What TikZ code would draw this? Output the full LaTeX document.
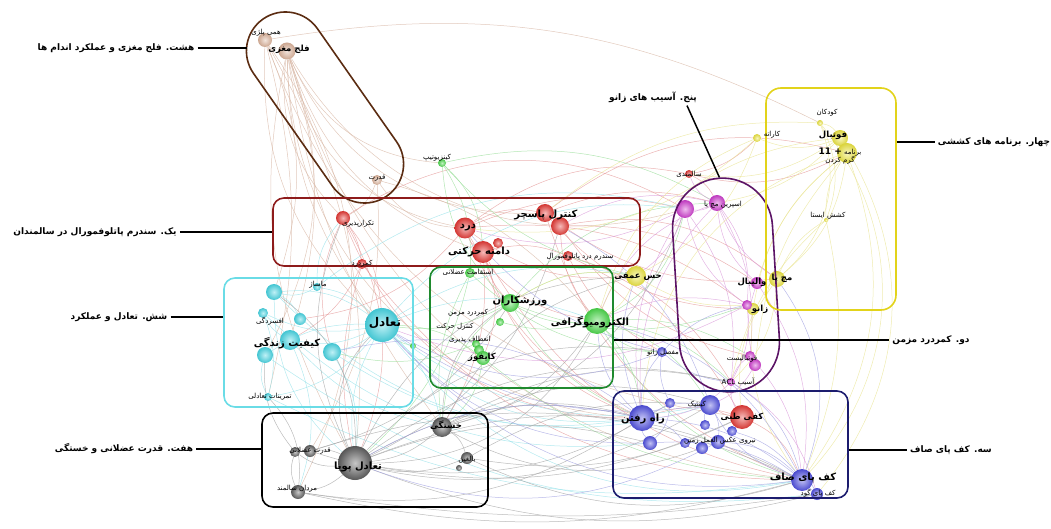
\documentclass[tikz,border=0pt]{standalone}
\usepackage{fontspec}
\usepackage{tikz}
\usetikzlibrary{backgrounds}
\TeXXeTstate=1
\newfontfamily\arabicfont[Script=Arabic]{DejaVu Sans}
\newcommand\rtl[1]{\beginR#1\endR}
\definecolor{brownline}{HTML}{5B2C12}
\definecolor{redline}{HTML}{8E1B1B}
\definecolor{cyanline}{HTML}{6ADCE6}
\definecolor{greenline}{HTML}{1F8A2E}
\definecolor{purpleline}{HTML}{5C1466}
\definecolor{yellowline}{HTML}{E2D31A}
\definecolor{navyline}{HTML}{1C1C6E}
\definecolor{brownnode}{HTML}{DDB49C}
\definecolor{rednode}{HTML}{E53A36}
\definecolor{greennode}{HTML}{4BD84B}
\definecolor{yellownode}{HTML}{EDE642}
\definecolor{purplenode}{HTML}{CF3ECF}
\definecolor{bluenode}{HTML}{5050E0}
\definecolor{cyannode}{HTML}{48D6E4}
\definecolor{graynode}{HTML}{5E5E5E}
\definecolor{brownedge}{HTML}{D8B8A6}
\definecolor{rededge}{HTML}{E59A9A}
\definecolor{greenedge}{HTML}{9ADE9A}
\definecolor{yellowedge}{HTML}{EAE596}
\definecolor{purpleedge}{HTML}{DA9ADA}
\definecolor{blueedge}{HTML}{A2A2E2}
\definecolor{cyanedge}{HTML}{98E2EA}
\definecolor{grayedge}{HTML}{A4A4A4}
\tikzset{
  bub/.style={circle, inner sep=0pt, inner color=#1!35!white, outer color=#1!92!black},
  lsm/.style={font=\arabicfont\fontsize{7}{8}\selectfont, inner sep=0pt},
  lmd/.style={font=\arabicfont\bfseries\fontsize{8.5}{9}\selectfont, inner sep=0pt},
  llg/.style={font=\arabicfont\bfseries\fontsize{10}{11}\selectfont, inner sep=0pt},
  outer/.style={font=\arabicfont\bfseries\fontsize{9}{10}\selectfont, inner sep=3pt},
}
\newcommand\links[2]{%
  \foreach \a/\b/\k in {#2}{%
    \pgfmathsetmacro\kk{1.7*\k}%
    \draw[edge=#1] (\a) to[bend left=\kk] (\b);}}
\begin{document}
\begin{tikzpicture}[x=1pt, y=-1pt,
  clus/.style={draw=#1, line width=1.6pt, rounded corners=11pt, inner sep=0pt},
  lead/.style={draw=black, line width=1.5pt},
  edge/.style={draw=#1, line width=.5pt, opacity=.75}]
  \useasboundingbox (0,0) rectangle (1051,529);
  % bubbles
  \foreach \n/\x/\y/\d in {hemi/265/40/14, cp/287/51/17, qodrat/377/180/10}
    \node[bub=brownnode, minimum size=\d pt] (\n) at (\x,\y) {};
  \foreach \n/\x/\y/\d in {rep/343/218/14, dard/465/228/21, pos1/545/213/18, pos2/560/226/18,
      rom/483/252/22, rom2/498/243/10, pfps/568/256/10, lbp/362/264/10, old/689/174/8, tebi/742/417/24}
    \node[bub=rednode, minimum size=\d pt] (\n) at (\x,\y) {};
  \foreach \n/\x/\y/\d in {kinesio/442/163/8, endur/470/273/10, ath/510/303/18, gdot1/500/322/8,
      flex/476/344/8, flex2/479/350/10, kypho/483/358/14, emg/597/321/26, gdot2/413/346/6}
    \node[bub=greennode, minimum size=\d pt] (\n) at (\x,\y) {};
  \foreach \n/\x/\y/\d in {kids/820/123/6, kar/757/138/8, foot/840/138/16, fifa/847/153/20,
      stat/826/220/4, prop/636/276/20, ankle/777/279/16, yknee/753/309/12}
    \node[bub=yellownode, minimum size=\d pt] (\n) at (\x,\y) {};
  \foreach \n/\x/\y/\d in {spr/717/203/16, spr2/685/209/18, volley/757/283/12, knee/747/305/10,
      ftb1/750/356/10, ftb2/755/365/12, acl/731/382/8}
    \node[bub=purplenode, minimum size=\d pt] (\n) at (\x,\y) {};
  \foreach \n/\x/\y/\d in {joint/662/352/10, kin/710/405/20, kin2/670/403/10, gait/642/418/26,
      b1/705/425/10, b2/732/431/10, b3/650/443/14, b4/685/443/10, b5/702/448/12, b6/718/442/14,
      flat/802/480/22, cavus/817/494/12}
    \node[bub=bluenode, minimum size=\d pt] (\n) at (\x,\y) {};
  \foreach \n/\x/\y/\d in {mas/317/287/8, c1/274/292/16, dep/263/313/10, c2/300/319/12,
      qol/290/340/20, c3/265/355/16, c4/332/352/18, bal/382/325/34, btr/268/397/8}
    \node[bub=cyannode, minimum size=\d pt] (\n) at (\x,\y) {};
  \foreach \n/\x/\y/\d in {fat/442/427/20, adu/467/458/12, adu2/459/468/6, ms1/295/452/10,
      ms2/310/451/12, dyn/355/463/34, men/298/492/14}
    \node[bub=graynode, minimum size=\d pt] (\n) at (\x,\y) {};
  % links
  \begin{scope}[on background layer]
    \links{brownedge}{cp/rep/-15, cp/dard/-20, cp/rom/-15, cp/bal/-10, cp/qol/10, cp/dyn/-12,
        cp/kinesio/-18, cp/pos1/-20, hemi/bal/-14, hemi/c1/12, hemi/dyn/10, hemi/kids/10.5,
        cp/spr2/-22, qodrat/rep/12, qodrat/dard/-15, qodrat/ms2/10, cp/c3/14, hemi/men/18,
        cp/gait/-25, cp/flat/-20, hemi/tebi/-18, qodrat/emg/10, hemi/btr/8, cp/fat/-8}
    \links{rededge}{dard/pos1/12, dard/rom/-10, dard/emg/-15, dard/knee/12, dard/spr2/10,
        dard/old/14, pos1/spr/10, pos1/ankle/-12, pos1/fifa/15, pos2/emg/-10, pos2/ftb1/-12,
        rom/pfps/10, rom/ath/-8, rom/kypho/12, rom/gait/-15, rep/bal/10, rep/c4/-12, rep/lbp/8,
        lbp/qol/10, lbp/dyn/-8, pfps/joint/-10, pfps/acl/12, old/spr/10, old/kar/-10,
        tebi/gait/-10, tebi/flat/12, tebi/kin/8, pos2/volley/10, dard/prop/-12, rep/dyn/15,
        pos1/yknee/-14, rom/fat/10, dard/c2/12, rep/gait/-20, lbp/flat/-15, pos1/flat/-15,
        dard/gait/-12, rom/flat/-14, pfps/tebi/10, pos2/ankle/14, rep/spr2/18, old/fifa/-12}
    \links{greenedge}{kinesio/endur/10, kinesio/ath/-12, kinesio/rom/12, ath/emg/-10,
        ath/prop/12, ath/bal/10, emg/joint/-12, emg/gait/10, emg/spr2/-14, emg/kin/12,
        endur/fat/-10, endur/dyn/10, kypho/bal/-10, kypho/fat/12, flex/c4/10, gdot1/emg/-8,
        gdot2/bal/8, ath/fat/-14, emg/acl/10, ath/knee/-12, kinesio/spr/12, kinesio/prop/-10,
        endur/joint/-12, ath/spr/14, ath/gait/-10, kypho/flat/-10, emg/flat/-12, emg/ftb1/10}
    \links{cyanedge}{bal/qol/10, bal/c1/-12, bal/dep/10, bal/c3/-10, bal/c4/8, bal/mas/-10,
        bal/btr/12, bal/dyn/-10, bal/fat/10, qol/c3/-10, qol/dep/10, c1/mas/-12, c1/c2/10,
        c3/btr/-12, c4/dyn/10, mas/rep/12, bal/flat/-18, qol/men/12, c1/dyn/-14, dep/btr/10,
        bal/emg/12, bal/gait/-15, c1/kin/-18, dep/b3/-14, c3/cavus/-12, btr/flat/-10,
        mas/spr2/15, bal/spr2/16, bal/prop/12, bal/kin/-14, c4/gait/-12, qol/fat/-10}
    \links{grayedge}{dyn/fat/-10, dyn/ms1/12, dyn/ms2/-10, dyn/men/10, dyn/adu/-10,
        dyn/gait/12, dyn/flat/14, dyn/b3/10, dyn/tebi/-10, fat/adu/12, fat/emg/-12, fat/gait/10,
        ms1/men/-12, men/cavus/-5, adu/flat/-12, fat/kin/12, dyn/cavus/-10, ms2/flat/12,
        men/flat/-8, fat/b5/-14, dyn/acl/14, dyn/joint/16, fat/acl/12, fat/prop/14,
        ms2/kin/-14, men/gait/-12, adu/tebi/-10, dyn/bal/20, dyn/c1/-16, dyn/rep/14,
        fat/ath/16, dyn/emg/-18, ms1/c3/12, men/btr/-14, dyn/pos2/-14, fat/spr2/-16,
        dyn/prop/18, ms2/ath/-12, adu/kin/10, dyn/kin2/-12}
    \links{purpleedge}{spr/spr2/10, spr/volley/-12, spr/knee/12, spr/ankle/-10, spr/ftb1/10,
        spr2/knee/-12, spr2/acl/12, volley/ftb2/-10, knee/acl/10, ftb1/acl/-10, acl/gait/12,
        acl/tebi/-10, spr2/prop/10, spr/pos2/-12, spr2/dard/12, knee/emg/-10, ftb2/kin/10,
        spr/old/12, spr/gait/-14, volley/flat/12, spr2/gait/-12, acl/cavus/12, ftb1/flat/10,
        spr/emg/-14, knee/bal/14}
    \links{yellowedge}{foot/fifa/10, foot/kids/-12, foot/kar/12, fifa/stat/-10, fifa/ankle/12,
        fifa/yknee/-12, foot/spr/10, fifa/volley/-10, kar/prop/12, stat/ankle/-10, prop/emg/10,
        prop/ath/-12, ankle/acl/12, fifa/ftb2/-10, foot/old/12, kids/pos1/-12, stat/flat/10,
        kids/flat/24, foot/cavus/21, kar/dard/14, prop/knee/-10, ankle/tebi/-12,
        kar/emg/-15, foot/emg/-18, fifa/gait/-20, kids/ankle/20, stat/acl/-10, yknee/flat/-12,
        fifa/flat/16, kids/stat/14}
    \links{blueedge}{flat/gait/-10, flat/kin/12, flat/cavus/10, flat/b6/-12, gait/kin/10,
        gait/b3/-10, gait/joint/12, kin/b1/-10, kin/b6/10, b4/b5/12, joint/acl/-10, gait/emg/12,
        flat/bal/16, gait/dyn/-12, kin2/joint/10, cavus/b3/-12, joint/knee/10, flat/emg/-14,
        gait/prop/12, b3/bal/14, kin/pos2/-12, flat/ankle/-16, joint/dard/10, joint/bal/15,
        gait/c4/-14, kin/bal/12, b6/dyn/14, b2/flat/10, b4/gait/-10, kin2/b3/12, flat/acl/-12}
  \end{scope}
  % clusters
  \node[clus=brownline, rounded corners=39pt, minimum width=216pt, minimum height=78pt, rotate=-55] (kbrown) at (325,107.5) {};
  \node[clus=redline, minimum width=367pt, minimum height=68pt] (kred) at (456.5,232) {};
  \node[clus=cyanline, minimum width=189pt, minimum height=129pt] (kcyan) at (318.5,342.5) {};
  \node[clus=greenline, minimum width=183pt, minimum height=121pt] (kgreen) at (521.5,327.5) {};
  \node[clus=purpleline, rounded corners=50pt, minimum width=100pt, minimum height=214pt, rotate=3.5] (kpurp) at (726,285) {};
  \node[clus=yellowline, rounded corners=15pt, minimum width=130pt, minimum height=222pt] (kyel) at (831,199) {};
  \node[clus=navyline, minimum width=235pt, minimum height=107pt] (knavy) at (730.5,444.5) {};
  \node[clus=black, minimum width=226pt, minimum height=94pt] (kblack) at (375,460) {};
  % labels
  \node[lsm] (lhemi) at (266,33) {\rtl{همی پلژی}};
  \node[lmd] (lcp) at (289,49) {\rtl{فلج مغزی}};
  \node[lsm] (lqodrat) at (377,178) {\rtl{قدرت}};
  \node[lsm] (lkinesio) at (437,158) {\rtl{کینزیوتیپ}};
  \node[lsm] (lrep) at (358,224) {\rtl{تکرارپذیری}};
  \node[llg] (ldard) at (468,228) {\rtl{درد}};
  \node[llg] (lpos) at (546,215) {\rtl{کنترل پاسچر}};
  \node[llg] (lrom) at (479,252) {\rtl{دامنه حرکتی}};
  \node[lsm] (lpfps) at (580,257) {\rtl{سندرم درد پاتلوفمورال}};
  \node[lsm] (llbp) at (362,264) {\rtl{کمردرد}};
  \node[lsm] (lold) at (689,174) {\rtl{سالمندی}};
  \node[lmd] (ltebi) at (742,417) {\rtl{کفی طبی}};
  \node[lsm] (lendur) at (468,272) {\rtl{استقامت عضلانی}};
  \node[llg] (lath) at (520,301) {\rtl{ورزشکاران}};
  \node[lsm] (lclbp) at (468,313) {\rtl{کمردرد مزمن}};
  \node[lsm] (lmotor) at (455,327) {\rtl{کنترل حرکت}};
  \node[lsm] (lflex) at (470,340) {\rtl{انعطاف پذیری}};
  \node[lmd] (lkypho) at (482,357) {\rtl{کایفوز}};
  \node[llg] (lemg) at (590,322) {\rtl{الکترومیوگرافی}};
  \node[lsm] (lkids) at (827,113) {\rtl{کودکان}};
  \node[lsm] (lkar) at (772,135) {\rtl{کاراته}};
  \node[lmd] (lfoot) at (833,135) {\rtl{فوتبال}};
  \node[lsm, align=center] (lfifa) at (840,156) {\rtl{برنامه {\bfseries\fontsize{9}{10}\selectfont+ \beginL11\endL}}\\\rtl{گرم کردن}};
  \node[lsm] (lstat) at (828,216) {\rtl{کشش ایستا}};
  \node[lmd] (lprop) at (638,277) {\rtl{حس عمقی}};
  \node[lmd] (lankle) at (782,278) {\rtl{مچ پا}};
  \node[lmd] (lknee) at (760,309) {\rtl{زانو}};
  \node[lsm] (lspr) at (723,205) {\rtl{اسپرین مچ پا}};
  \node[lmd] (lvolley) at (752,282) {\rtl{والیبال}};
  \node[lsm] (lftb) at (742,359) {\rtl{فوتبالیست}};
  \node[lsm] (lacl) at (738,382) {\rtl{آسیب \beginL ACL\endL}};
  \node[lsm] (ljoint) at (663,353) {\rtl{مفصل زانو}};
  \node[lsm] (lkin) at (697,404) {\rtl{کینتیک}};
  \node[llg] (lgait) at (643,419) {\rtl{راه رفتن}};
  \node[lsm] (lgrf) at (720,441) {\rtl{نیروی عکس العمل زمین}};
  \node[llg] (lflat) at (803,478) {\rtl{کف پای صاف}};
  \node[lsm] (lcavus) at (818,493) {\rtl{کف پای گود}};
  \node[lsm] (lmas) at (318,285) {\rtl{ماساژ}};
  \node[lsm] (ldep) at (270,321) {\rtl{افسردگی}};
  \node[llg] (lqol) at (287,343) {\rtl{کیفیت زندگی}};
  \node[llg, font=\arabicfont\bfseries\fontsize{12}{13}\selectfont] (lbal) at (385,323) {\rtl{تعادل}};
  \node[lsm] (lbtr) at (270,397) {\rtl{تمرینات تعادلی}};
  \node[lmd] (lfat) at (446,425) {\rtl{خستگی}};
  \node[lsm] (ladu) at (467,460) {\rtl{بالغین}};
  \node[lsm] (lms) at (310,451) {\rtl{قدرت عضلانی}};
  \node[llg] (ldyn) at (358,467) {\rtl{تعادل پویا}};
  \node[lsm] (lmen) at (297,489) {\rtl{مردان سالمند}};
  % cluster titles
  \node[outer] (l8) at (116,48) {\rtl{هشت. فلج مغزی و عملکرد اندام ها}};
  \node[outer] (l1) at (95,232) {\rtl{یک. سندرم پاتلوفمورال در سالمندان}};
  \node[outer] (l6) at (119,317) {\rtl{شش. تعادل و عملکرد}};
  \node[outer] (l7) at (124,449) {\rtl{هفت. قدرت عضلانی و خستگی}};
  \node[outer] (l5) at (653,97) {\rtl{پنج. آسیب های زانو}};
  \node[outer] (l4) at (994,142) {\rtl{چهار. برنامه های کششی}};
  \node[outer] (l2) at (931,340) {\rtl{دو. کمردرد مزمن}};
  \node[outer] (l3) at (951,450) {\rtl{سه. کف پای صاف}};
  \coordinate (hb) at (247,48);
  \draw[lead] (l8.east) -- (hb);
  \draw[lead] (l1.east) -- (l1 -| kred.west);
  \draw[lead] (l6.east) -- (l6 -| kcyan.west);
  \draw[lead] (l7.east) -- (l7 -| kblack.west);
  \draw[lead] ([xshift=34pt]l5.south) -- (kpurp.north);
  \draw[lead] (l4 -| kyel.east) -- (l4.west);
  \draw[lead, line width=1.2pt] (l2 -| kgreen.east) -- (l2.west);
  \draw[lead] (l3 -| knavy.east) -- (l3.west);
\end{tikzpicture}
\end{document}
